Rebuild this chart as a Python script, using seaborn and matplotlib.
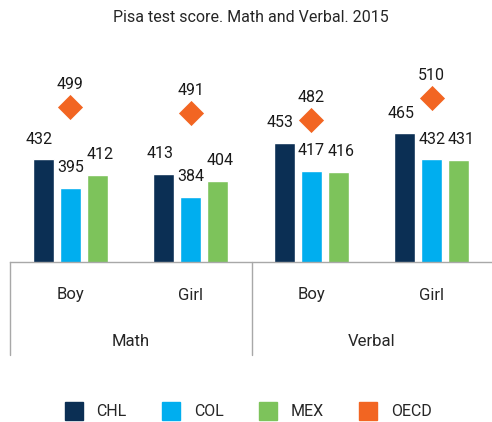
"""
Pisa test score chart: Math and Verbal, 2015, grouped bars by country with OECD diamonds.
"""

import matplotlib
matplotlib.use("Agg")
import pandas as pd
import seaborn as sns
import matplotlib.pyplot as plt
from matplotlib.lines import Line2D

subjects = ["Math", "Math", "Verbal", "Verbal"]
genders = ["Boy", "Girl", "Boy", "Girl"]
countries = ["CHL", "COL", "MEX"]
chl = [432, 413, 453, 465]
col = [395, 384, 417, 432]
mex = [412, 404, 416, 431]
oecd = [499, 491, 482, 510]

palette = {"CHL": "#0B2F54", "COL": "#00AEEF", "MEX": "#7DC35B"}
oecd_color = "#F26522"
line_color = "#A8A8A8"
W, H = 492, 422


def build_frame():
    groups = [f"{s} {g}" for s, g in zip(subjects, genders)]
    rows = []
    for country, values in zip(countries, [chl, col, mex]):
        for grp, v in zip(groups, values):
            rows.append({"group": grp, "country": country, "score": v})
    return pd.DataFrame(rows), groups


def px_x(x):
    return x / W


def px_y(y):
    return 1 - y / H


sns.set_style("white")
plt.rcParams["font.family"] = ["Roboto", "DejaVu Sans"]

df, groups = build_frame()
oecd_df = pd.DataFrame({"group": groups, "score": oecd})

fig = plt.figure(figsize=(W / 100, H / 100), dpi=100)
ax = fig.add_axes([px_x(10), px_y(262), px_x(482), 222 / H])

sns.barplot(data=df, x="group", y="score", hue="country", palette=palette,
            width=0.672, gap=0.22, saturation=1, legend=False, ax=ax)
sns.stripplot(data=oecd_df, x="group", y="score", jitter=False, marker="D",
              size=12.8, color=oecd_color, linewidth=0, ax=ax, zorder=5)

# value labels, nudged sideways a little so neighbours don't collide
nudges = [-3, 0, 2]
for container, dx in zip(ax.containers, nudges):
    for bar in container:
        h = bar.get_height()
        ax.annotate(f"{h:.0f}", (bar.get_x() + bar.get_width() / 2, h),
                    xytext=(dx, 9), textcoords="offset points",
                    ha="center", va="bottom", fontsize=11.5, color="#1a1a1a")
for i, v in enumerate(oecd):
    ax.annotate(str(v), (i, v), xytext=(0, 11), textcoords="offset points",
                ha="center", va="bottom", fontsize=11.5, color="#1a1a1a")

ax.set_xlim(-0.5, 3.5)
ax.set_ylim(300, 585)
ax.set_xlabel("")
ax.set_ylabel("")
ax.set_xticks([])
ax.set_yticks([])
for side in ["top", "right", "left"]:
    ax.spines[side].set_visible(False)
ax.spines["bottom"].set_color(line_color)
ax.spines["bottom"].set_linewidth(1)

# two-level category axis below the plot
for i, g in enumerate(genders):
    fig.text(px_x(10 + (i + 0.5) * 120.5), px_y(295), g, ha="center", va="center", fontsize=12)
for j, s in enumerate(["Math", "Verbal"]):
    fig.text(px_x(10 + (j + 0.5) * 241), px_y(341), s, ha="center", va="center", fontsize=12)
for xp in [10, 252]:
    fig.add_artist(Line2D([px_x(xp), px_x(xp)], [px_y(262), px_y(355)],
                          color=line_color, lw=1, transform=fig.transFigure))

fig.text(px_x(251), px_y(18), "Pisa test score. Math and Verbal. 2015",
         ha="center", va="center", fontsize=11.5)

handles = [Line2D([], [], marker="s", linestyle="none", markersize=13.5,
                  color=c) for c in [palette["CHL"], palette["COL"], palette["MEX"], oecd_color]]
fig.legend(handles, ["CHL", "COL", "MEX", "OECD"], loc="center",
           bbox_to_anchor=(px_x(248), px_y(412)), ncol=4, frameon=False,
           fontsize=11.5, handlelength=1.2, handletextpad=0.8, columnspacing=2.2)

plt.savefig("out.png", dpi=100)
plt.close()
